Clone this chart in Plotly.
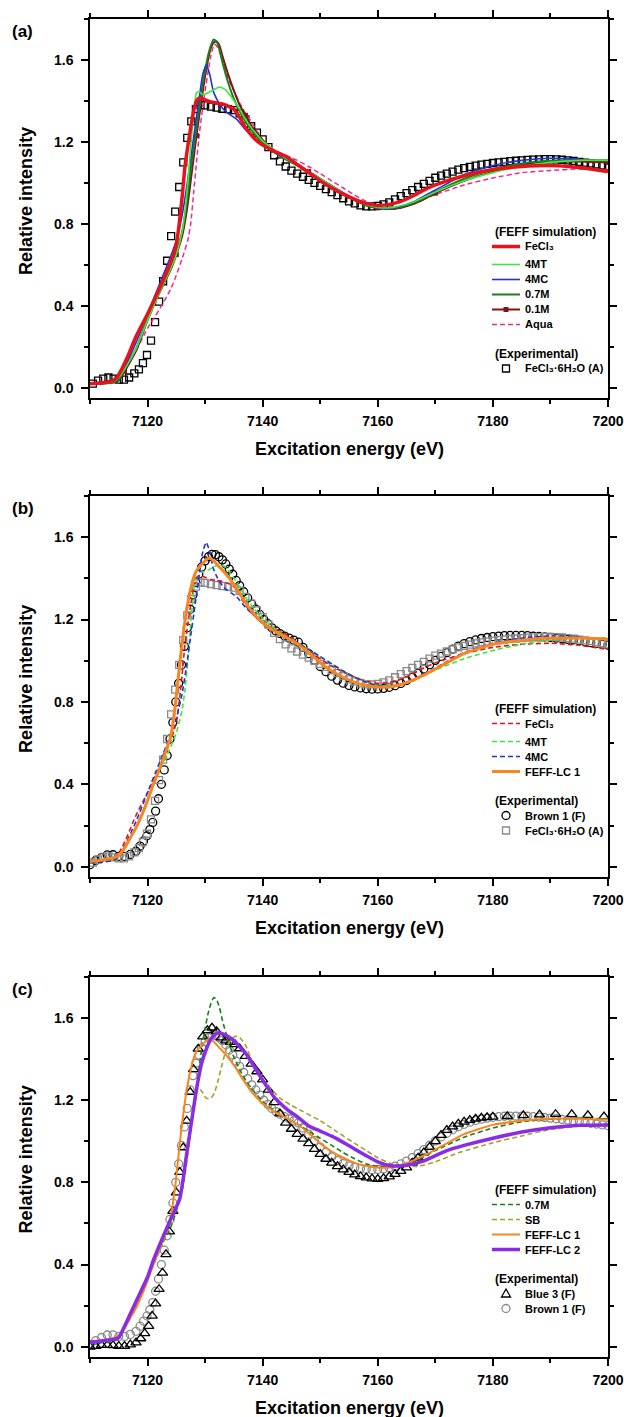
import plotly.graph_objects as go

FONT = "Liberation Sans, Arial, Helvetica, DejaVu Sans, sans-serif"

# ======================= DATA =======================
# ---- FEFF simulations (panel a; reused in b, c) ----
E_FECL3 = [7110, 7112, 7113.5, 7114.5, 7115.5, 7116.5, 7118, 7120, 7122, 7124, 7125, 7125.5, 7126,
           7126.5, 7127, 7127.5, 7128, 7128.5, 7129, 7130, 7131, 7132, 7133, 7134, 7135, 7136, 7137,
           7138, 7139, 7140, 7142, 7144, 7146, 7148, 7150, 7152, 7154, 7156, 7158, 7160, 7162, 7164,
           7166, 7168, 7170, 7175, 7180, 7185, 7190, 7195, 7200]
I_FECL3 = [0.020, 0.025, 0.030, 0.045, 0.090, 0.150, 0.250, 0.360, 0.480, 0.610, 0.700, 0.800, 0.930,
           1.080, 1.180, 1.270, 1.350, 1.400, 1.415, 1.405, 1.395, 1.390, 1.385, 1.375, 1.360, 1.320, 1.270,
           1.235, 1.205, 1.185, 1.155, 1.130, 1.090, 1.050, 1.010, 0.975, 0.945, 0.920, 0.900, 0.890, 0.895, 0.910,
           0.935, 0.965, 0.990, 1.035, 1.065, 1.080, 1.085, 1.075, 1.055]

E_4MT = [7110, 7112, 7114, 7115, 7116, 7118, 7120, 7122, 7124, 7125, 7126, 7126.5, 7127, 7127.5, 7128,
         7128.5, 7129, 7129.6, 7130.5, 7131.5, 7132.5, 7133.5, 7134.8, 7136, 7137, 7138.3, 7140, 7142,
         7144, 7146, 7148, 7150, 7152, 7154, 7156, 7158, 7160, 7162, 7164, 7166, 7168, 7170, 7175, 7180,
         7185, 7190, 7195, 7200]
I_4MT = [0.020, 0.022, 0.030, 0.050, 0.090, 0.190, 0.330, 0.460, 0.580, 0.650, 0.760, 0.860, 1.000, 1.180,
         1.330, 1.440, 1.445, 1.430, 1.440, 1.455, 1.468, 1.455, 1.410, 1.360, 1.310, 1.260, 1.205, 1.160,
         1.120, 1.090, 1.055, 1.020, 0.985, 0.950, 0.920, 0.895, 0.880, 0.878, 0.888, 0.905, 0.930, 0.955,
         1.010, 1.050, 1.080, 1.100, 1.110, 1.110]

E_4MC = [7110, 7112, 7114, 7115, 7116, 7118, 7120, 7122, 7124, 7125, 7126, 7126.8, 7127.5, 7128.2,
         7129, 7129.6, 7130.2, 7130.8, 7131.4, 7132, 7132.6, 7133.5, 7134.5, 7135.5, 7137, 7138.5, 7140,
         7142, 7144, 7146, 7148, 7150, 7152, 7154, 7156, 7158, 7160, 7162, 7164, 7166, 7168, 7170, 7175,
         7180, 7185, 7190, 7195]
I_4MC = [0.020, 0.022, 0.030, 0.050, 0.100, 0.220, 0.360, 0.500, 0.640, 0.720, 0.840, 0.980, 1.120, 1.260,
         1.420, 1.530, 1.575, 1.530, 1.450, 1.410, 1.380, 1.350, 1.330, 1.310, 1.260, 1.220, 1.185, 1.150,
         1.120, 1.090, 1.055, 1.020, 0.985, 0.950, 0.920, 0.895, 0.878, 0.875, 0.885, 0.905, 0.935, 0.965,
         1.040, 1.085, 1.110, 1.120, 1.117]

E_07M = [7110, 7112, 7114, 7115, 7116, 7118, 7120, 7122, 7124, 7125, 7126, 7126.5, 7127, 7127.5, 7128,
         7128.5, 7129, 7129.5, 7130, 7130.5, 7131, 7131.5, 7132, 7132.5, 7133, 7134, 7135, 7136, 7137,
         7138, 7140, 7142, 7144, 7146, 7148, 7150, 7152, 7154, 7156, 7158, 7160, 7162, 7164, 7166, 7168,
         7170, 7175, 7180, 7185, 7190, 7195, 7200]
I_07M = [0.020, 0.020, 0.025, 0.040, 0.090, 0.190, 0.340, 0.470, 0.580, 0.660, 0.760, 0.840, 0.950, 1.070,
         1.170, 1.270, 1.370, 1.470, 1.550, 1.620, 1.670, 1.700, 1.690, 1.650, 1.590, 1.490, 1.410, 1.350,
         1.300, 1.260, 1.195, 1.150, 1.115, 1.085, 1.050, 1.015, 0.980, 0.945, 0.915, 0.890, 0.878, 0.875,
         0.882, 0.900, 0.925, 0.955, 1.020, 1.065, 1.095, 1.108, 1.112, 1.110]

E_01M = E_07M
I_01M = [0.020, 0.020, 0.025, 0.035, 0.080, 0.180, 0.330, 0.460, 0.575, 0.650, 0.740, 0.810, 0.900, 1.010,
         1.120, 1.230, 1.330, 1.430, 1.520, 1.600, 1.660, 1.685, 1.690, 1.670, 1.620, 1.530, 1.450, 1.380,
         1.330, 1.280, 1.210, 1.155, 1.120, 1.090, 1.055, 1.020, 0.985, 0.950, 0.920, 0.895, 0.878, 0.872,
         0.878, 0.895, 0.920, 0.950, 1.010, 1.055, 1.085, 1.100, 1.105, 1.100]
E_01M_SYMBOLS = [7116, 7125, 7128.5, 7137, 7148, 7160, 7170, 7185, 7200]

E_AQUA = [7110, 7112, 7114, 7115, 7116, 7118, 7120, 7122, 7124, 7125, 7126, 7127, 7127.5, 7128, 7128.5,
          7129, 7129.5, 7130, 7130.5, 7131, 7131.6, 7132.2, 7133, 7134, 7135, 7136, 7137, 7138, 7140, 7142,
          7144, 7146, 7148, 7150, 7152, 7154, 7156, 7158, 7160, 7162, 7164, 7166, 7168, 7170, 7175, 7180,
          7185, 7190, 7195, 7200]
I_AQUA = [0.020, 0.020, 0.025, 0.040, 0.080, 0.180, 0.290, 0.380, 0.480, 0.550, 0.630, 0.720, 0.800, 0.950,
          1.100, 1.240, 1.350, 1.450, 1.540, 1.620, 1.677, 1.660, 1.600, 1.510, 1.450, 1.390, 1.340, 1.300,
          1.210, 1.160, 1.135, 1.110, 1.080, 1.045, 1.010, 0.975, 0.940, 0.910, 0.885, 0.872, 0.878, 0.900,
          0.920, 0.943, 0.990, 1.024, 1.050, 1.060, 1.068, 1.065]

E_SB = [7110, 7112, 7114, 7115, 7116, 7118, 7120, 7122, 7124, 7125, 7126, 7127, 7128, 7128.8, 7129.5,
        7130.2, 7131, 7131.6, 7132.2, 7133, 7133.8, 7134.5, 7135.3, 7136, 7137, 7138.3, 7140, 7141.5, 7143,
        7145, 7147, 7150, 7153, 7156, 7158, 7160, 7162, 7164, 7167, 7170, 7174, 7180, 7185, 7190, 7195, 7200]
I_SB = [0.020, 0.025, 0.035, 0.045, 0.090, 0.200, 0.330, 0.460, 0.600, 0.680, 0.780, 0.950, 1.150, 1.260,
        1.240, 1.210, 1.210, 1.235, 1.290, 1.380, 1.460, 1.495, 1.512, 1.505, 1.470, 1.380, 1.300, 1.255,
        1.210, 1.175, 1.145, 1.100, 1.045, 0.990, 0.955, 0.920, 0.895, 0.882, 0.878, 0.900, 0.944, 0.993,
        1.026, 1.058, 1.074, 1.082]

E_LC1 = [7110, 7112, 7114, 7115, 7116, 7117, 7118, 7119, 7120, 7121, 7122, 7124, 7124.8, 7125.6, 7126.2,
         7126.8, 7127.5, 7128.2, 7128.8, 7129.5, 7130.2, 7130.8, 7131.5, 7132.5, 7133.5, 7134.5, 7135.5,
         7136.6, 7138.3, 7140, 7142, 7144, 7146, 7148, 7150, 7152, 7154, 7156, 7158, 7160, 7162, 7164,
         7166, 7168, 7170, 7172, 7175, 7180, 7185, 7190, 7195, 7200]
I_LC1 = [0.025, 0.032, 0.042, 0.055, 0.090, 0.140, 0.190, 0.250, 0.320, 0.400, 0.470, 0.630, 0.780, 0.990,
         1.130, 1.250, 1.350, 1.420, 1.450, 1.470, 1.490, 1.500, 1.485, 1.455, 1.425, 1.390, 1.350, 1.300,
         1.233, 1.185, 1.145, 1.115, 1.083, 1.040, 0.990, 0.950, 0.920, 0.895, 0.880, 0.873, 0.873, 0.885,
         0.905, 0.930, 0.960, 0.990, 1.035, 1.080, 1.100, 1.110, 1.110, 1.105]

E_LC2 = [7110, 7112, 7114, 7115, 7116, 7117, 7118, 7119, 7120, 7121, 7122, 7124, 7125, 7125.6, 7126.2,
         7126.8, 7127.5, 7128.2, 7128.8, 7129.4, 7130.1, 7130.8, 7131.5, 7132.2, 7133, 7134, 7135, 7136,
         7137, 7138.3, 7139.5, 7140.7, 7142, 7143, 7144.5, 7146, 7148, 7150, 7152, 7154, 7156, 7158, 7160,
         7162, 7164, 7166, 7168, 7170, 7172, 7175, 7180, 7185, 7190, 7195, 7200]
I_LC2 = [0.022, 0.028, 0.036, 0.045, 0.100, 0.160, 0.220, 0.280, 0.340, 0.420, 0.490, 0.620, 0.680, 0.720,
         0.820, 0.940, 1.070, 1.200, 1.300, 1.380, 1.440, 1.488, 1.515, 1.528, 1.524, 1.510, 1.490, 1.460,
         1.430, 1.374, 1.320, 1.268, 1.215, 1.187, 1.150, 1.120, 1.075, 1.050, 1.025, 0.995, 0.962, 0.930,
         0.900, 0.882, 0.880, 0.890, 0.905, 0.930, 0.955, 0.980, 1.015, 1.045, 1.066, 1.078, 1.080]

# ---- Experimental spectra ----
E_FECL3_6H2O = ([7110.5, 7111.4, 7112.3, 7113.2, 7114.1, 7115.0, 7115.9, 7116.8, 7117.7, 7118.5, 7119.2,
                 7119.9, 7120.6, 7121.3, 7122.0, 7122.7, 7123.4, 7124.1, 7124.8, 7125.5, 7126.2, 7126.9,
                 7127.6, 7128.4, 7129.2] + list(range(7130, 7201)))
I_FECL3_6H2O = [0.020, 0.035, 0.045, 0.050, 0.045, 0.040, 0.040, 0.050, 0.070, 0.090, 0.120, 0.160, 0.230,
                0.320, 0.420, 0.520, 0.620, 0.740, 0.860, 0.980, 1.100, 1.220, 1.300, 1.360, 1.380,
                1.378, 1.372, 1.367, 1.362, 1.360, 1.355, 1.340, 1.310, 1.277, 1.245,
                1.212, 1.175, 1.135, 1.105, 1.080, 1.060, 1.045, 1.030, 1.015, 1.000,
                0.985, 0.970, 0.955, 0.940, 0.925, 0.910, 0.900, 0.890, 0.885, 0.885,
                0.888, 0.895, 0.905, 0.920, 0.935, 0.950, 0.965, 0.980, 0.995, 1.010,
                1.025, 1.035, 1.045, 1.055, 1.065, 1.072, 1.078, 1.084, 1.089, 1.093,
                1.097, 1.100, 1.103, 1.106, 1.108, 1.110, 1.112, 1.114, 1.115, 1.116,
                1.116, 1.115, 1.113, 1.110, 1.107, 1.103, 1.099, 1.095, 1.090, 1.085, 1.080]

E_BROWN1 = ([7110, 7111, 7112, 7113, 7114, 7115, 7116, 7117, 7118, 7118.7, 7119.3, 7119.9, 7120.4, 7120.9,
             7121.4, 7121.9, 7122.4, 7122.9, 7123.4, 7123.9, 7124.4, 7124.9, 7125.4, 7125.9, 7126.4, 7126.9,
             7127.4, 7127.9, 7128.4, 7128.9, 7129.4, 7130.0, 7130.6, 7131.2, 7131.8, 7132.4, 7133.0, 7133.6,
             7134.2, 7134.8, 7135.4, 7136.0, 7136.7, 7137.4, 7138.1, 7138.8, 7139.5, 7140.2, 7140.9, 7141.6,
             7142.3, 7143.0, 7143.8, 7144.6, 7145.4, 7146.2, 7147] + list(range(7148, 7201)))
I_BROWN1 = [0.010, 0.030, 0.045, 0.057, 0.058, 0.050, 0.050, 0.060, 0.075, 0.100, 0.125, 0.150, 0.180, 0.215,
            0.270, 0.330, 0.400, 0.470, 0.540, 0.620, 0.700, 0.800, 0.890, 0.980, 1.070, 1.160, 1.250, 1.320,
            1.380, 1.420, 1.455, 1.485, 1.505, 1.517, 1.515, 1.505, 1.490, 1.470, 1.445, 1.420, 1.390, 1.365,
            1.335, 1.305, 1.275, 1.250, 1.225, 1.200, 1.180, 1.160, 1.145, 1.132, 1.120, 1.110, 1.100, 1.090,
            1.065,
            1.035, 1.003, 0.972, 0.947, 0.925, 0.906, 0.891, 0.880, 0.873, 0.868, 0.864, 0.862, 0.863, 0.866,
            0.871, 0.879, 0.890, 0.904, 0.921, 0.940, 0.960, 0.981, 1.002, 1.021, 1.039, 1.056, 1.071, 1.083,
            1.093, 1.101, 1.108, 1.113, 1.117, 1.120, 1.122, 1.123, 1.123, 1.123, 1.122, 1.120, 1.118, 1.116,
            1.113, 1.110, 1.107, 1.104, 1.101, 1.097, 1.093, 1.088, 1.084, 1.080, 1.076]

E_BLUE3 = ([7110, 7111, 7112, 7113, 7114, 7115, 7116, 7117, 7118, 7118.8, 7119.5, 7120.2, 7120.8, 7121.4,
            7122.0, 7122.6, 7123.2, 7123.8, 7124.4, 7125.0, 7125.6, 7126.2, 7126.8, 7127.4, 7128.0, 7128.8,
            7129.6, 7130.4, 7131.2, 7132.0, 7132.8, 7133.6, 7134.4, 7135.2, 7136] + list(range(7137, 7181))
           + [7182.5, 7185.3, 7188.1, 7190.9, 7193.7, 7196.5, 7199.3])
I_BLUE3 = [0.000, 0.003, 0.008, 0.008, 0.007, 0.003, 0.003, 0.010, 0.020, 0.040, 0.065, 0.100, 0.150, 0.210,
           0.280, 0.360, 0.450, 0.560, 0.660, 0.750, 0.850, 0.970, 1.100, 1.240, 1.350, 1.450, 1.510, 1.540,
           1.553, 1.535, 1.505, 1.490, 1.483, 1.472, 1.452,
           1.415, 1.377, 1.340, 1.300, 1.250, 1.190, 1.135, 1.090, 1.060, 1.035, 1.012, 0.990, 0.962, 0.938,
           0.914, 0.895, 0.878, 0.862, 0.850, 0.838, 0.829, 0.823, 0.818, 0.816, 0.820, 0.828, 0.840, 0.855,
           0.872, 0.895, 0.920, 0.945, 0.972, 1.000, 1.030, 1.055, 1.072, 1.085, 1.095, 1.103, 1.110, 1.114,
           1.117, 1.119,
           1.122, 1.126, 1.130, 1.132, 1.131, 1.127, 1.120]

# ---- Axis ticks / labels ----
X_RANGE = [7110, 7200]
Y_RANGE = [-0.05, 1.8]
PANEL_LABELS = ["(a)", "(b)", "(c)"]
X_TITLE = "Excitation energy (eV)"
Y_TITLE = "Relative intensity"
LBL_FECL3 = "FeCl\u2083"
LBL_HYDRATE = "FeCl\u2083\u00b76H\u2082O (A)"

# ======================= STYLE =======================
RED = "#e8121b"
LGREEN = "#3ee63e"
BLUE = "#2233d8"
DGREEN = "#1c7f1c"
MAROON = "#7d1717"
PINK = "#ec2d8c"
ORANGE = "#f7861e"
PURPLE = "#8a2be6"
OLIVE = "#a3a324"
GRAY = "#8a8a8a"
DASH = "5px,3px"

W, H = 624, 1417
MT, MB, ML, MR = 19, 60, 90, 16
PH = H - MT - MB
PANELS = [(19, 398), (496, 877), (977, 1357)]


def ydom(top, bot):
    return [(H - MB - bot) / PH, (H - MB - top) / PH]


fig = go.Figure()


def axes_of(k):
    return ("x" if k == 1 else f"x{k}"), ("y" if k == 1 else f"y{k}")


def add_line(k, xs, ys, color, width, dash="solid", name=""):
    xa, ya = axes_of(k)
    fig.add_trace(go.Scatter(
        x=xs, y=ys, mode="lines", name=name, showlegend=False,
        line=dict(color=color, width=width, dash=dash, shape="spline", smoothing=0.5),
        xaxis=xa, yaxis=ya))


def add_markers(k, xs, ys, symbol, color, size, name="", lw=1.3):
    xa, ya = axes_of(k)
    fig.add_trace(go.Scatter(
        x=xs, y=ys, mode="markers", name=name, showlegend=False,
        marker=dict(symbol=symbol, size=size, color=color, line=dict(color=color, width=lw)),
        xaxis=xa, yaxis=ya))


# ---- panel (a) ----
add_markers(1, E_FECL3_6H2O, I_FECL3_6H2O, "square-open", "black", 7, LBL_HYDRATE)
add_line(1, E_AQUA, I_AQUA, PINK, 1.5, DASH, "Aqua")
add_line(1, E_01M, I_01M, MAROON, 2, "solid", "0.1M")
sym_idx = [E_01M.index(e) for e in E_01M_SYMBOLS]
add_markers(1, [E_01M[i] for i in sym_idx], [I_01M[i] for i in sym_idx], "square", MAROON, 5,
            "0.1M", lw=0)
add_line(1, E_07M, I_07M, DGREEN, 2, "solid", "0.7M")
add_line(1, E_4MC, I_4MC, BLUE, 1.6, "solid", "4MC")
add_line(1, E_4MT, I_4MT, LGREEN, 1.6, "solid", "4MT")
add_line(1, E_FECL3, I_FECL3, RED, 3.5, "solid", LBL_FECL3)

# ---- panel (b) ----
add_markers(2, E_BROWN1, I_BROWN1, "circle-open", "black", 8, "Brown 1 (F)")
add_markers(2, E_FECL3_6H2O, I_FECL3_6H2O, "square-open", GRAY, 7, LBL_HYDRATE)
add_line(2, E_FECL3, I_FECL3, RED, 1.6, DASH, LBL_FECL3)
add_line(2, E_4MT, I_4MT, LGREEN, 1.6, DASH, "4MT")
add_line(2, E_4MC, I_4MC, BLUE, 1.6, DASH, "4MC")
add_line(2, E_LC1, I_LC1, ORANGE, 3, "solid", "FEFF-LC 1")

# ---- panel (c) ----
add_markers(3, E_BROWN1, I_BROWN1, "circle-open", GRAY, 8, "Brown 1 (F)")
add_markers(3, E_BLUE3, I_BLUE3, "triangle-up-open", "black", 9, "Blue 3 (F)")
add_line(3, E_07M, I_07M, DGREEN, 1.6, DASH, "0.7M")
add_line(3, E_SB, I_SB, OLIVE, 1.6, DASH, "SB")
add_line(3, E_LC1, I_LC1, ORANGE, 2, "solid", "FEFF-LC 1")
add_line(3, E_LC2, I_LC2, PURPLE, 3.5, "solid", "FEFF-LC 2")

# ======================= AXES =======================
tickfont = dict(family=FONT, size=14, color="black", weight="bold")
layout_axes = {}
for k, (top, bot) in enumerate(PANELS, start=1):
    xa, ya = axes_of(k)
    layout_axes["xaxis" if k == 1 else f"xaxis{k}"] = dict(
        domain=[0, 1], anchor=ya, range=X_RANGE,
        tick0=7100, dtick=20, ticks="outside", ticklen=7, tickwidth=1.5, tickcolor="black",
        showline=True, linecolor="black", linewidth=1.5, mirror="allticks",
        showgrid=False, zeroline=False, tickfont=tickfont, ticklabelstandoff=2,
        minor=dict(tick0=7100, dtick=10, ticks="outside", ticklen=4, tickwidth=1.5,
                   tickcolor="black", showgrid=False))
    layout_axes["yaxis" if k == 1 else f"yaxis{k}"] = dict(
        domain=ydom(top, bot), anchor=xa, range=Y_RANGE,
        tick0=0, dtick=0.4, tickformat=".1f", ticks="outside", ticklen=7, tickwidth=1.5,
        tickcolor="black", showline=True, linecolor="black", linewidth=1.5, mirror="allticks",
        showgrid=False, zeroline=False, tickfont=tickfont, ticklabelstandoff=5,
        minor=dict(tick0=0, dtick=0.2, ticks="outside", ticklen=4, tickwidth=1.5,
                   tickcolor="black", showgrid=False))

fig.update_layout(**layout_axes)

# ======================= TEXT / LEGENDS =======================
annotations = []
shapes = []


def dref(k, ax):
    return f"{ax} domain" if k == 1 else f"{ax}{k} domain"


for k, (top, bot) in enumerate(PANELS, start=1):
    hp = bot - top
    annotations.append(dict(text=f"<b>{PANEL_LABELS[k-1]}</b>", xref="paper", yref=dref(k, "y"),
                            x=(10 - ML) / (W - ML - MR), y=1 - 12 / hp, xanchor="left", yanchor="middle",
                            showarrow=False, font=dict(family=FONT, size=17, color="black")))
    annotations.append(dict(text=f"<b>{X_TITLE}</b>", xref=dref(k, "x"), yref=dref(k, "y"),
                            x=0.5, y=-51 / hp, xanchor="center", yanchor="middle",
                            showarrow=False, font=dict(family=FONT, size=18, color="black")))
    annotations.append(dict(text=f"<b>{Y_TITLE}</b>", xref=dref(k, "x"), yref=dref(k, "y"),
                            x=(26 - ML) / (W - ML - MR), y=0.52, xanchor="center", yanchor="middle",
                            textangle=-90, showarrow=False,
                            font=dict(family=FONT, size=18, color="black")))

# legend entries: (label, color, width, dash, with_symbol)
LEGENDS = {
    1: ([(LBL_FECL3, RED, 3.5, "solid", False), ("4MT", LGREEN, 1.6, "solid", False),
         ("4MC", BLUE, 1.6, "solid", False), ("0.7M", DGREEN, 2, "solid", False),
         ("0.1M", MAROON, 2, "solid", True), ("Aqua", PINK, 1.5, DASH, False)],
        [(LBL_HYDRATE, "square", "black")]),
    2: ([(LBL_FECL3, RED, 1.6, DASH, False), ("4MT", LGREEN, 1.6, DASH, False),
         ("4MC", BLUE, 1.6, DASH, False), ("FEFF-LC 1", ORANGE, 3, "solid", False)],
        [("Brown 1 (F)", "circle", "black"), (LBL_HYDRATE, "square", GRAY)]),
    3: ([("0.7M", DGREEN, 1.6, DASH, False), ("SB", OLIVE, 1.6, DASH, False),
         ("FEFF-LC 1", ORANGE, 2, "solid", False), ("FEFF-LC 2", PURPLE, 3.5, "solid", False)],
        [("Blue 3 (F)", "triangle", "black"), ("Brown 1 (F)", "circle", GRAY)]),
}

PW = W - ML - MR
LX0, LX1 = (492 - ML) / PW, (520 - ML) / PW
LXM = (506 - ML) / PW
LXT = (523 - ML) / PW
LXH = (493 - ML) / PW
lfont = dict(family=FONT, size=11, color="black")
hfont = dict(family=FONT, size=12, color="black")

for k, (top, bot) in enumerate(PANELS, start=1):
    hp = bot - top
    xr, yr = dref(k, "x"), dref(k, "y")
    sim, exp = LEGENDS[k]
    off = 213
    annotations.append(dict(text="<b>(FEFF simulation)</b>", xref=xr, yref=yr, x=LXH, y=1 - off / hp,
                            xanchor="left", yanchor="middle", showarrow=False, font=hfont))
    off += 14.5
    for i, (lab, col, wd, ds, sym) in enumerate(sim):
        yd = 1 - off / hp
        shapes.append(dict(type="line", xref=xr, yref=yr, x0=LX0, x1=LX1, y0=yd, y1=yd,
                           line=dict(color=col, width=wd, dash=ds)))
        if sym:
            shapes.append(dict(type="rect", xref=xr, yref=yr, xsizemode="pixel", ysizemode="pixel",
                               xanchor=LXM, yanchor=yd, x0=-2.5, x1=2.5, y0=-2.5, y1=2.5,
                               fillcolor=col, line=dict(width=0)))
        annotations.append(dict(text=f"<b>{lab}</b>", xref=xr, yref=yr, x=LXT, y=yd,
                                xanchor="left", yanchor="middle", showarrow=False, font=lfont))
        if i < len(sim) - 1:
            off += 15 + (3 if lab == LBL_FECL3 else 0)
    off += 29.5
    annotations.append(dict(text="<b>(Experimental)</b>", xref=xr, yref=yr, x=LXH, y=1 - off / hp,
                            xanchor="left", yanchor="middle", showarrow=False, font=hfont))
    off += 14.5
    for lab, sym, col in exp:
        yd = 1 - off / hp
        common = dict(xref=xr, yref=yr, xsizemode="pixel", ysizemode="pixel", xanchor=LXM, yanchor=yd,
                      line=dict(color=col, width=1.3), fillcolor="rgba(0,0,0,0)")
        if sym == "square":
            shapes.append(dict(type="rect", x0=-3.5, x1=3.5, y0=-3.5, y1=3.5, **common))
        elif sym == "circle":
            shapes.append(dict(type="circle", x0=-4, x1=4, y0=-4, y1=4, **common))
        else:
            shapes.append(dict(type="path", path="M -4.5,-3.5 L 4.5,-3.5 L 0,4.5 Z", **common))
        annotations.append(dict(text=f"<b>{lab}</b>", xref=xr, yref=yr, x=LXT, y=yd,
                                xanchor="left", yanchor="middle", showarrow=False, font=lfont))
        off += 15

fig.update_layout(
    width=W, height=H, margin=dict(l=ML, r=MR, t=MT, b=MB, autoexpand=False),
    paper_bgcolor="white", plot_bgcolor="white", showlegend=False,
    font=dict(family=FONT, color="black"),
    annotations=annotations, shapes=shapes,
)

fig.write_html("out.html")
